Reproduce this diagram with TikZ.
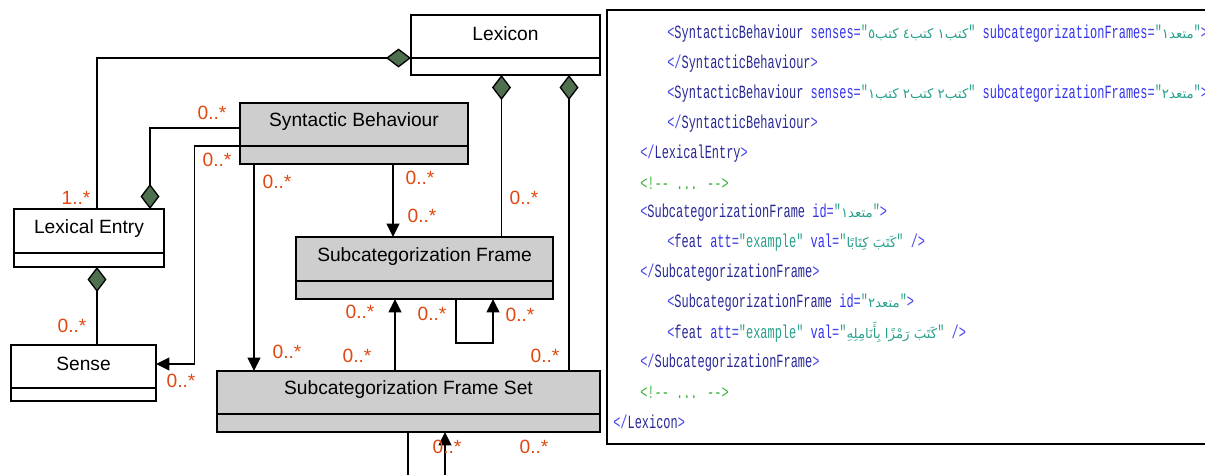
\documentclass[tikz,border=0pt]{standalone}
\usepackage{fontspec}
\setmainfont{Liberation Sans}
\newfontfamily\codefont[FakeStretch=0.64]{Liberation Mono}
\newfontfamily\arabicfont[Script=Arabic]{DejaVu Sans}
\TeXXeTstate=1
\usetikzlibrary{arrows.meta,calc,fit}
\definecolor{dgreen}{RGB}{78,112,78}
\definecolor{multc}{RGB}{224,72,16}
\definecolor{boxgray}{RGB}{206,206,206}
\definecolor{tagc}{RGB}{40,40,150}
\definecolor{punc}{RGB}{70,70,235}
\definecolor{attc}{RGB}{50,50,240}
\definecolor{valc}{RGB}{40,160,140}
\definecolor{comc}{RGB}{60,180,60}
\newcommand\Pn[1]{\textcolor{punc}{#1}}
\newcommand\Tg[1]{\textcolor{tagc}{#1}}
\newcommand\At[1]{\textcolor{attc}{#1}}
\newcommand\Vl[1]{\textcolor{valc}{#1}}
\newcommand\Cm[1]{\textcolor{comc}{#1}}
\newcommand\Ar[1]{{\color{valc}\arabicfont\fontsize{10}{12}\selectfont\beginR #1\endR}}
\newcommand\classbox[8]{%
  \node[cbox, fill=#8, fit={(#2,#3) (#4,#5)}] (#1) {};
  \draw[divline] (#1.west |- 0,#6) -- (#1.east |- 0,#6);
  \node[ctitle] (#1t) at ($(#1.north)!0.5!(#1.north |- 0,#6)+(0,-2.5)$) {#7};
}
\begin{document}
\begin{tikzpicture}[x=0.75pt,y=-0.75pt,
  cbox/.style={draw=black, line width=1.5pt, inner sep=0pt, outer sep=0pt},
  divline/.style={draw=black, line width=1.5pt},
  ctitle/.style={inner sep=0pt, font=\fontsize{14.4}{16}\selectfont},
  mlabel/.style={text=multc, inner sep=0pt, font=\fontsize{14.4}{16}\selectfont},
  conn/.style={draw=black, line width=1pt},
  comp/.style={conn, -{Diamond[length=18.75pt, width=14.25pt, fill=dgreen]}},
  assoc/.style={conn, line width=1.2pt, -{Triangle[length=10pt, width=9.5pt]}},
  codeline/.style={anchor=west, inner sep=0pt, font=\codefont\fontsize{14}{16}\selectfont},
  codeframe/.style={draw=black, line width=2pt}
]
\useasboundingbox (0,0) rectangle (1205,475);

% class boxes
\classbox{lex}{411}{15}{600}{75}{58}{Lexicon}{white}
\classbox{sb}{240}{103}{468}{164}{146}{Syntactic Behaviour}{boxgray}
\classbox{le}{14}{209}{164}{267}{253}{Lexical Entry}{white}
\classbox{sense}{11}{345}{156}{401}{388}{Sense}{white}
\classbox{sf}{296}{237}{553}{299}{281}{Subcategorization Frame}{boxgray}
\classbox{sfs}{217}{371}{600}{432}{414}{Subcategorization Frame Set}{boxgray}

% helper coordinates
\coordinate (x97) at (97,0);
\coordinate (x150) at (150,0);
\coordinate (x194) at (194.5,0);
\coordinate (x254) at (254,0);
\coordinate (x393) at (393,0);
\coordinate (x395) at (395,0);
\coordinate (x408) at (408,0);
\coordinate (x445) at (445,0);
\coordinate (x456) at (456,0);
\coordinate (x493) at (493,0);
\coordinate (x501) at (501.5,0);
\coordinate (x569) at (569,0);
\coordinate (lexd) at (0,58);
\coordinate (y128) at (0,128);
\coordinate (y343) at (0,343);
\coordinate (y364) at (0,364);
\coordinate (sbd) at (300,146);
\coordinate (b408) at (408,475);
\coordinate (b445) at (445,475);

% connectors
\draw[comp] (le.north -| x97) |- (lex.west |- lexd);
\draw[comp] (sb.west |- y128) -| (le.north -| x150);
\draw[comp] (sense.north -| x97) -- (le.south -| x97);
\draw[assoc] (sbd) -- (sbd -| x194) |- (sense.east |- y364);
\draw[assoc] (sb.south -| x254) -- (sfs.north -| x254);
\draw[assoc] (sb.south -| x393) -- (sf.north -| x393);
\draw[comp] (sf.north -| x501) -- (lex.south -| x501);
\draw[comp] (sfs.north -| x569) -- (lex.south -| x569);
\draw[assoc] (sfs.north -| x395) -- (sf.south -| x395);
\draw[assoc] (sf.south -| x456) -- (x456 |- y343) -| (sf.south -| x493);
\draw[conn, line width=1.2pt] (sfs.south -| x408) -- (b408);
\draw[assoc] (b445) -- (sfs.south -| x445);

% multiplicities
\node[mlabel] (m1) at (76,198) {1..*};
\node[mlabel] (m2) at (212,113) {0..*};
\node[mlabel] (m3) at (217,160) {0..*};
\node[mlabel] (m4) at (277,182) {0..*};
\node[mlabel] (m5) at (420,178) {0..*};
\node[mlabel] (m6) at (422,216) {0..*};
\node[mlabel] (m7) at (524,198) {0..*};
\node[mlabel] (m8) at (72,326) {0..*};
\node[mlabel] (m9) at (181,381) {0..*};
\node[mlabel] (m10) at (287,352) {0..*};
\node[mlabel] (m11) at (360,312) {0..*};
\node[mlabel] (m12) at (432,314) {0..*};
\node[mlabel] (m13) at (520,315) {0..*};
\node[mlabel] (m14) at (357,356) {0..*};
\node[mlabel] (m15) at (545,356) {0..*};
\node[mlabel] (m16) at (447,447) {0..*};
\node[mlabel] (m17) at (534,447) {0..*};

% code panel
\draw[codeframe] (1206,10) -- (607,10) -- (607,444) -- (1206,444);
\begin{scope}
\clip (608,11) rectangle (1205,443);
\node[codeline] (c1) at (667,34) {\Pn{<}\Tg{SyntacticBehaviour} \At{senses}\Pn{=}\Vl{"}\Ar{كتب١ كتب٤ كتب٥}\Vl{"} \At{subcategorizationFrames}\Pn{=}\Vl{"}\Ar{متعد١}\Vl{"}\Pn{>}};
\node[codeline] (c2) at (667,63.9) {\Pn{</}\Tg{SyntacticBehaviour}\Pn{>}};
\node[codeline] (c3) at (667,93.7) {\Pn{<}\Tg{SyntacticBehaviour} \At{senses}\Pn{=}\Vl{"}\Ar{كتب٢ كتب٢ كتب١}\Vl{"} \At{subcategorizationFrames}\Pn{=}\Vl{"}\Ar{متعد٢}\Vl{"}\Pn{>}};
\node[codeline] (c4) at (667,123.6) {\Pn{</}\Tg{SyntacticBehaviour}\Pn{>}};
\node[codeline] (c5) at (640,153.4) {\Pn{</}\Tg{LexicalEntry}\Pn{>}};
\node[codeline] (c6) at (640,183.3) {\Cm{<!-{}- ... -{}->}};
\node[codeline] (c7) at (640,213.1) {\Pn{<}\Tg{SubcategorizationFrame} \At{id}\Pn{=}\Vl{"}\Ar{متعد١}\Vl{"}\Pn{>}};
\node[codeline] (c8) at (667,243) {\Pn{<}\Tg{feat} \At{att}\Pn{=}\Vl{"example"} \At{val}\Pn{=}\Vl{"}\Ar{كَتَبَ كِتَابًا}\Vl{"} \Pn{/>}};
\node[codeline] (c9) at (640,272.8) {\Pn{</}\Tg{SubcategorizationFrame}\Pn{>}};
\node[codeline] (c10) at (667,302.7) {\Pn{<}\Tg{SubcategorizationFrame} \At{id}\Pn{=}\Vl{"}\Ar{متعد٢}\Vl{"}\Pn{>}};
\node[codeline] (c11) at (667,332.5) {\Pn{<}\Tg{feat} \At{att}\Pn{=}\Vl{"example"} \At{val}\Pn{=}\Vl{"}\Ar{كَتَبَ رَمْزًا بِأَنَامِلِهِ}\Vl{"} \Pn{/>}};
\node[codeline] (c12) at (640,362.4) {\Pn{</}\Tg{SubcategorizationFrame}\Pn{>}};
\node[codeline] (c13) at (640,392.2) {\Cm{<!-{}- ... -{}->}};
\node[codeline] (c14) at (613,422.1) {\Pn{</}\Tg{Lexicon}\Pn{>}};
\end{scope}
\end{tikzpicture}
\end{document}
